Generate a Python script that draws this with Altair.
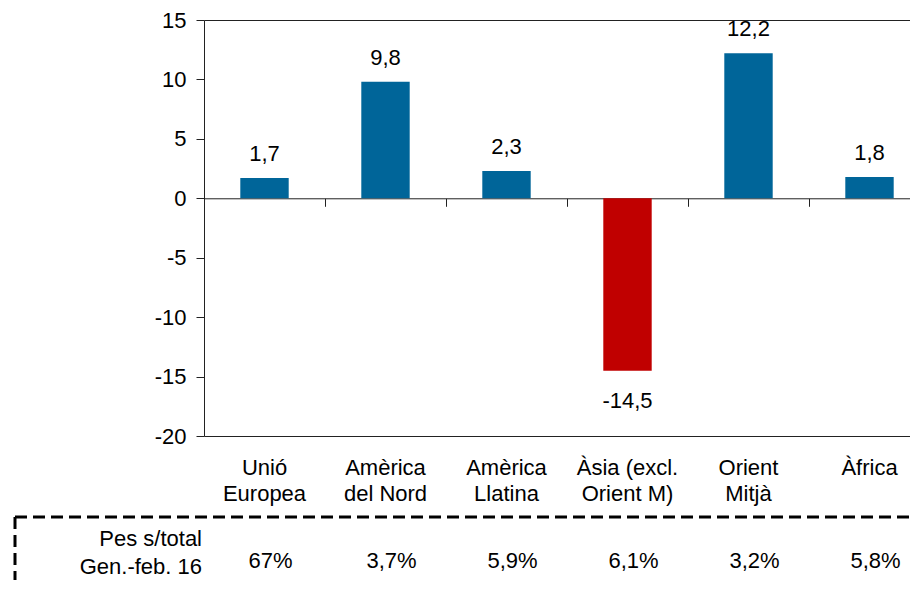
import altair as alt
import pandas as pd

categories = ["Unió\nEuropea", "Amèrica\ndel Nord", "Amèrica\nLlatina",
              "Àsia (excl.\nOrient M)", "Orient\nMitjà", "Àfrica"]
values = [1.7, 9.8, 2.3, -14.5, 12.2, 1.8]
shares = [67, 3.7, 5.9, 6.1, 3.2, 5.8]
row_label = ["Pes s/total", "Gen.-feb. 16"]

df = pd.DataFrame({"cat": categories, "v": values, "p": shares})

FONT = "Liberation Sans"
FS = 22
PAD_L, PAD_T = 196, 12
TOTAL_W, TOTAL_H = 902, 572
PLOT_W = TOTAL_W - PAD_L
PLOT_H = 416
RANGE_W = 726
Y_MIN, Y_MAX = -20, 15
zero_offset = -(PLOT_H * (0 - Y_MIN) / (Y_MAX - Y_MIN))

xscale = alt.Scale(domain=categories, range=[0, RANGE_W], paddingInner=0, paddingOuter=0)
yscale = alt.Scale(domain=[Y_MIN, Y_MAX], nice=False, zero=False)

base = alt.Chart(df)

bars = base.mark_bar(width=alt.RelativeBandSize(0.4)).encode(
    x=alt.X("cat:N", sort=categories, scale=xscale,
            axis=alt.Axis(orient="bottom", title=None, ticks=False, tickSize=0, grid=False,
                          labelExpr="split(datum.label, '\\n')", labelAngle=0,
                          labelFontSize=FS, labelPadding=21, labelLineHeight=26,
                          labelColor="black", domainColor="#222", labelFont=FONT)),
    y=alt.Y("v:Q", scale=yscale,
            axis=alt.Axis(orient="left", title=None, values=list(range(-20, 20, 5)),
                          tickSize=8, labelPadding=10, labelFontSize=FS, labelFont=FONT,
                          labelExpr="'' + datum.value", labelColor="black", grid=False,
                          domainColor="#222", tickColor="#222")),
    color=alt.condition(alt.datum.v < 0, alt.value("#C00000"), alt.value("#006599")),
)

lbl_expr = "(datum.v < 0 ? '-' : '') + replace(format(abs(datum.v), '.1f'), '.', ',')"

pos_labels = base.transform_filter(alt.datum.v >= 0).transform_calculate(
    lbl=lbl_expr
).mark_text(dy=-17, baseline="alphabetic", fontSize=FS, font=FONT, color="black").encode(
    x=alt.X("cat:N", sort=categories, scale=xscale,
            axis=alt.Axis(orient="bottom", offset=zero_offset, title=None, labels=False,
                          ticks=True, tickBand="extent", tickSize=8, tickColor="#222",
                          domainColor="#222", grid=False)),
    y=alt.Y("v:Q", scale=yscale, axis=None),
    text="lbl:N",
)

neg_labels = base.transform_filter(alt.datum.v < 0).transform_calculate(
    lbl=lbl_expr
).mark_text(dy=37, baseline="alphabetic", fontSize=FS, font=FONT, color="black").encode(
    x=alt.X("cat:N", sort=categories, scale=xscale, axis=None),
    y=alt.Y("v:Q", scale=yscale, axis=None),
    text="lbl:N",
)

pct_expr = ("(datum.p == floor(datum.p) ? format(datum.p, 'd') : "
            "replace(format(datum.p, '.1f'), '.', ',')) + '%'")

pct = base.transform_calculate(pl=pct_expr).mark_text(
    dx=6, baseline="alphabetic", fontSize=FS, font=FONT, color="black"
).encode(
    x=alt.X("cat:N", sort=categories, scale=xscale,
            axis=alt.Axis(orient="top", title=None, labels=False, ticks=False,
                          domainColor="#222", grid=False)),
    y=alt.value(PLOT_H + 132),
    text="pl:N",
)

row = alt.Chart(pd.DataFrame({"k": [0]})).mark_text(
    text=row_label, align="right", baseline="alphabetic", lineHeight=27.5,
    fontSize=FS, font=FONT, color="black"
).encode(x=alt.value(-2), y=alt.value(PLOT_H + 110))

box_h = alt.Chart(pd.DataFrame({"k": [0]})).mark_rule(
    strokeDash=[12, 6], strokeWidth=3, color="black"
).encode(x=alt.value(-189), x2=alt.value(RANGE_W + 20), y=alt.value(PLOT_H + 81))

box_v = alt.Chart(pd.DataFrame({"k": [0]})).mark_rule(
    strokeDash=[12, 6], strokeWidth=3, color="black"
).encode(x=alt.value(-189), y=alt.value(PLOT_H + 81), y2=alt.value(PLOT_H + 200))

chart = alt.layer(bars, pos_labels, neg_labels, pct, row, box_h, box_v).resolve_axis(
    x="independent", y="independent"
).properties(
    width=PLOT_W, height=PLOT_H,
    autosize=alt.AutoSizeParams(type="none"),
    padding={"left": PAD_L, "top": PAD_T, "right": 0,
             "bottom": TOTAL_H - PAD_T - PLOT_H},
).configure(font=FONT).configure_view(stroke=None)

chart.save("out.html", embed_options={"renderer": "svg", "actions": False})
